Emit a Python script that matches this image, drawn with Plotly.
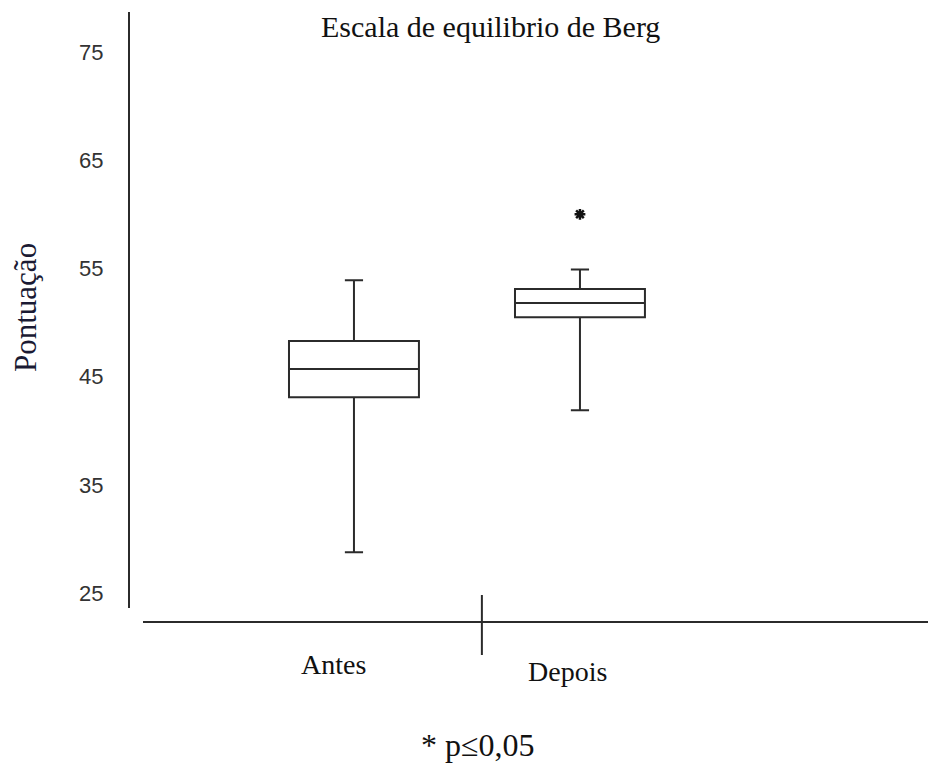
import plotly.graph_objects as go

# ---- data ----
categories = ["Antes", "Depois"]
lower_whisker = [28.8, 41.9]
q1_values = [43.1, 50.5]
medians = [45.7, 51.8]
q3_values = [48.3, 53.1]
upper_whisker = [53.9, 54.9]
star_category = ["Depois"]
star_values = [60.0]
y_ticks = [25, 35, 45, 55, 65, 75]

title_text = "Escala de equilibrio de Berg"
y_title = "Pontuação"
footnote = "* p≤0,05"

serif = "Liberation Serif, Times New Roman, serif"
sans = "Liberation Sans, Arial, sans-serif"
line_col = "#2b2b2b"

pos = {c: i for i, c in enumerate(categories)}

fig = go.Figure()
for i, c in enumerate(categories):
    fig.add_trace(go.Box(
        x=[pos[c]],
        q1=[q1_values[i]], median=[medians[i]], q3=[q3_values[i]],
        lowerfence=[lower_whisker[i]], upperfence=[upper_whisker[i]],
        width=0.575, whiskerwidth=0.14,
        fillcolor="white",
        line=dict(color=line_col, width=2),
        boxpoints=False, showlegend=False, hoverinfo="skip",
    ))

fig.add_trace(go.Scatter(
    x=[pos[c] for c in star_category], y=star_values,
    mode="markers",
    marker=dict(symbol="asterisk-open", size=9, color="#111",
                line=dict(color="#111", width=2.5)),
    showlegend=False, hoverinfo="skip",
))

annotations = [
    dict(text=title_text, x=0.452, y=0.975, xref="paper", yref="paper",
         showarrow=False, xanchor="center", yanchor="middle",
         font=dict(family=serif, size=30, color="#111")),
    dict(text=y_title, x=-0.1316, y=0.505, xref="paper", yref="paper",
         showarrow=False, textangle=-90, xanchor="center", yanchor="middle",
         font=dict(family=serif, size=31, color="#1a1a33")),
    dict(text=footnote, x=0.436, y=-0.23, xref="paper", yref="paper",
         showarrow=False, xanchor="center", yanchor="middle",
         font=dict(family=serif, size=32, color="#111")),
    dict(text=categories[0], x=pos[categories[0]], xshift=-20, y=-0.0956,
         xref="x", yref="paper", showarrow=False, xanchor="center", yanchor="middle",
         font=dict(family=serif, size=28, color="#111")),
    dict(text=categories[1], x=pos[categories[1]], xshift=-12, y=-0.107,
         xref="x", yref="paper", showarrow=False, xanchor="center", yanchor="middle",
         font=dict(family=serif, size=28, color="#111")),
]

shapes = [
    # horizontal baseline
    dict(type="line", xref="paper", yref="paper", x0=0.0163, x1=1.0,
         y0=-0.0235, y1=-0.0235, line=dict(color=line_col, width=2)),
    # divider tick between categories
    dict(type="line", xref="x", yref="paper", x0=0.566, x1=0.566,
         y0=0.0218, y1=-0.0789, line=dict(color=line_col, width=2)),
]

fig.update_layout(
    width=928, height=765,
    margin=dict(l=130, r=0, t=12, b=157),
    paper_bgcolor="white", plot_bgcolor="white",
    annotations=annotations, shapes=shapes,
    xaxis=dict(visible=False, range=[-0.991, 2.540]),
    yaxis=dict(range=[23.64, 78.68], tickvals=y_ticks, showgrid=False, zeroline=False,
               showline=True, linecolor=line_col, linewidth=2, ticks="",
               ticklabelstandoff=20,
               tickfont=dict(family=sans, size=22, color="#333")),
)

fig.write_html("out.html", config={"displayModeBar": False},
               post_script="document.body.style.margin='0';document.body.style.overflow='hidden';")
